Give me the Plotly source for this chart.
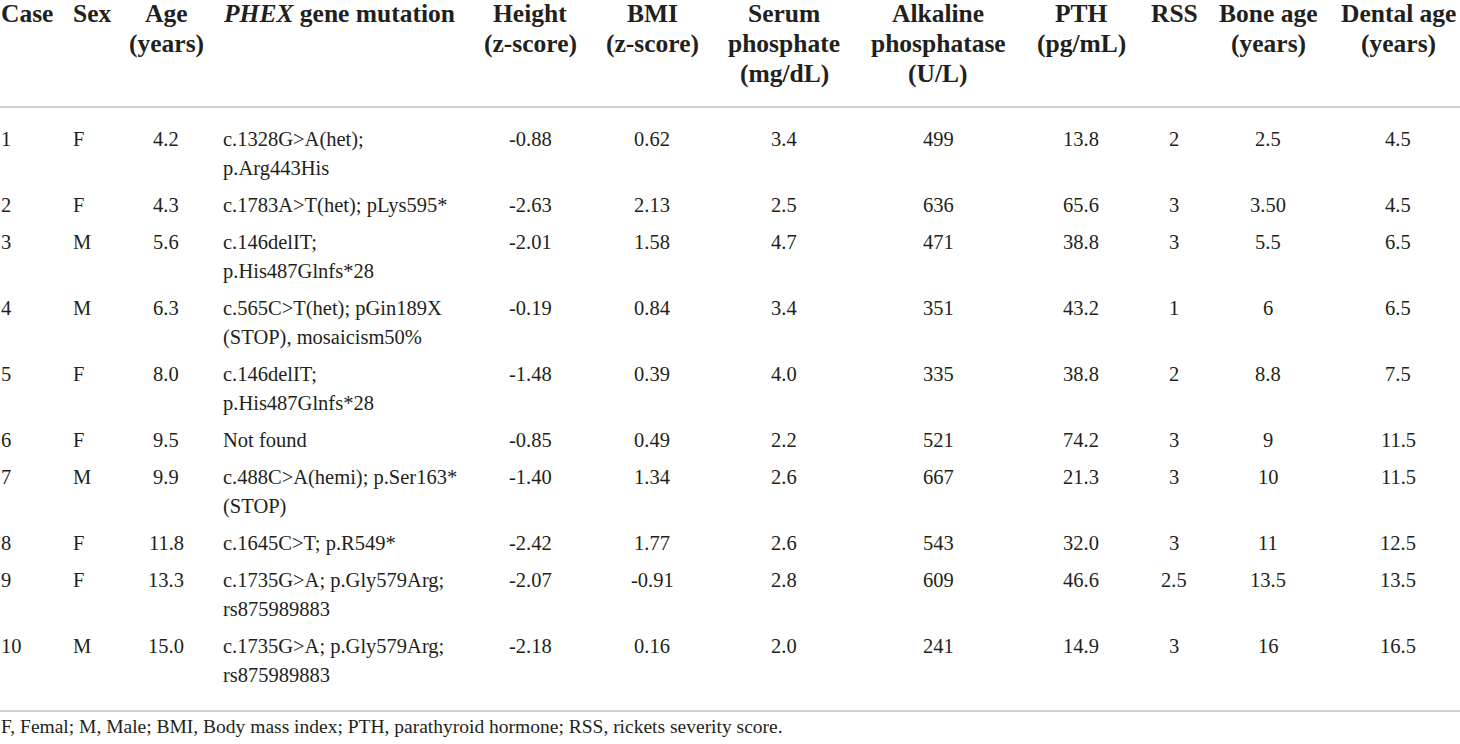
import plotly.graph_objects as go

# ---------------- data ----------------
case = ["1", "2", "3", "4", "5", "6", "7", "8", "9", "10"]
sex = ["F", "F", "M", "M", "F", "F", "M", "F", "F", "M"]
age = ["4.2", "4.3", "5.6", "6.3", "8.0", "9.5", "9.9", "11.8", "13.3", "15.0"]
mutation = [
    ["c.1328G>A(het);", "p.Arg443His"],
    ["c.1783A>T(het); pLys595*"],
    ["c.146delIT;", "p.His487Glnfs*28"],
    ["c.565C>T(het); pGin189X", "(STOP), mosaicism50%"],
    ["c.146delIT;", "p.His487Glnfs*28"],
    ["Not found"],
    ["c.488C>A(hemi); p.Ser163*", "(STOP)"],
    ["c.1645C>T; p.R549*"],
    ["c.1735G>A; p.Gly579Arg;", "rs875989883"],
    ["c.1735G>A; p.Gly579Arg;", "rs875989883"],
]
height_z = ["-0.88", "-2.63", "-2.01", "-0.19", "-1.48", "-0.85", "-1.40", "-2.42", "-2.07", "-2.18"]
bmi_z = ["0.62", "2.13", "1.58", "0.84", "0.39", "0.49", "1.34", "1.77", "-0.91", "0.16"]
phosphate = ["3.4", "2.5", "4.7", "3.4", "4.0", "2.2", "2.6", "2.6", "2.8", "2.0"]
alk_phos = ["499", "636", "471", "351", "335", "521", "667", "543", "609", "241"]
pth = ["13.8", "65.6", "38.8", "43.2", "38.8", "74.2", "21.3", "32.0", "46.6", "14.9"]
rss = ["2", "3", "3", "1", "2", "3", "3", "3", "2.5", "3"]
bone_age = ["2.5", "3.50", "5.5", "6", "8.8", "9", "10", "11", "13.5", "16"]
dental_age = ["4.5", "4.5", "6.5", "6.5", "7.5", "11.5", "11.5", "12.5", "13.5", "16.5"]

headers = [
    ["Case"], ["Sex"], ["Age", "(years)"], ["<i>PHEX</i> gene mutation"],
    ["Height", "(z-score)"], ["BMI", "(z-score)"],
    ["Serum", "phosphate", "(mg/dL)"], ["Alkaline", "phosphatase", "(U/L)"],
    ["PTH", "(pg/mL)"], ["RSS"], ["Bone age", "(years)"], ["Dental age", "(years)"],
]
footnote = "F, Femal; M, Male; BMI, Body mass index; PTH, parathyroid hormone; RSS, rickets severity score."

# ---------------- layout / style ----------------
W, H = 1460, 744
TEXT = "#231f20"
FONT = "Liberation Serif"
col_x = [0, 72, 166, 222, 530, 652, 784, 938, 1081, 1174, 1268, 1398]
col_anchor = ["left", "left", "center", "left", "center", "center",
              "center", "center", "center", "center", "center", "center"]
columns = [case, sex, age, mutation, height_z, bmi_z, phosphate, alk_phos,
           pth, rss, bone_age, dental_age]

head_y0, head_pitch, head_size = 13, 30, 25.5
body_y0, line_pitch, body_size = 139, 29, 20.5
one_line_h, two_line_h = 37, 66

annotations = []

def add_text(x, y, text, anchor, size, bold=False):
    t = f"<b>{text}</b>" if bold else text
    annotations.append(dict(
        x=x, y=y, xref="x", yref="y", text=t, showarrow=False,
        xanchor=anchor, yanchor="middle", align=anchor,
        font=dict(family=FONT, size=size, color=TEXT), borderpad=0,
    ))

# header
for ci, lines in enumerate(headers):
    for li, line in enumerate(lines):
        add_text(col_x[ci], head_y0 + li * head_pitch, line, col_anchor[ci], head_size, bold=True)

# body rows
row_y = []
y = body_y0
for r in range(len(case)):
    row_y.append(y)
    y += two_line_h if len(mutation[r]) > 1 else one_line_h

for ci, col in enumerate(columns):
    for r, val in enumerate(col):
        lines = val if isinstance(val, list) else [val]
        for li, line in enumerate(lines):
            add_text(col_x[ci], row_y[r] + li * line_pitch, line, col_anchor[ci], body_size)

# footnote
add_text(0, 726, footnote, "left", 19.5)

shapes = [
    dict(type="line", xref="x", yref="y", x0=0, x1=W, y0=107, y1=107,
         line=dict(color="#cfcfcf", width=2)),
    dict(type="line", xref="x", yref="y", x0=0, x1=W, y0=711, y1=711,
         line=dict(color="#cfcfcf", width=2)),
]

fig = go.Figure()
fig.update_layout(
    width=W, height=H, margin=dict(l=0, r=0, t=0, b=0),
    paper_bgcolor="white", plot_bgcolor="white",
    xaxis=dict(range=[0, W], visible=False, fixedrange=True),
    yaxis=dict(range=[H, 0], visible=False, fixedrange=True),
    annotations=annotations, shapes=shapes, showlegend=False,
)
fig.write_html(
    "out.html",
    config={"displayModeBar": False},
    post_script="document.body.style.margin='0';document.body.style.overflow='hidden';",
)
